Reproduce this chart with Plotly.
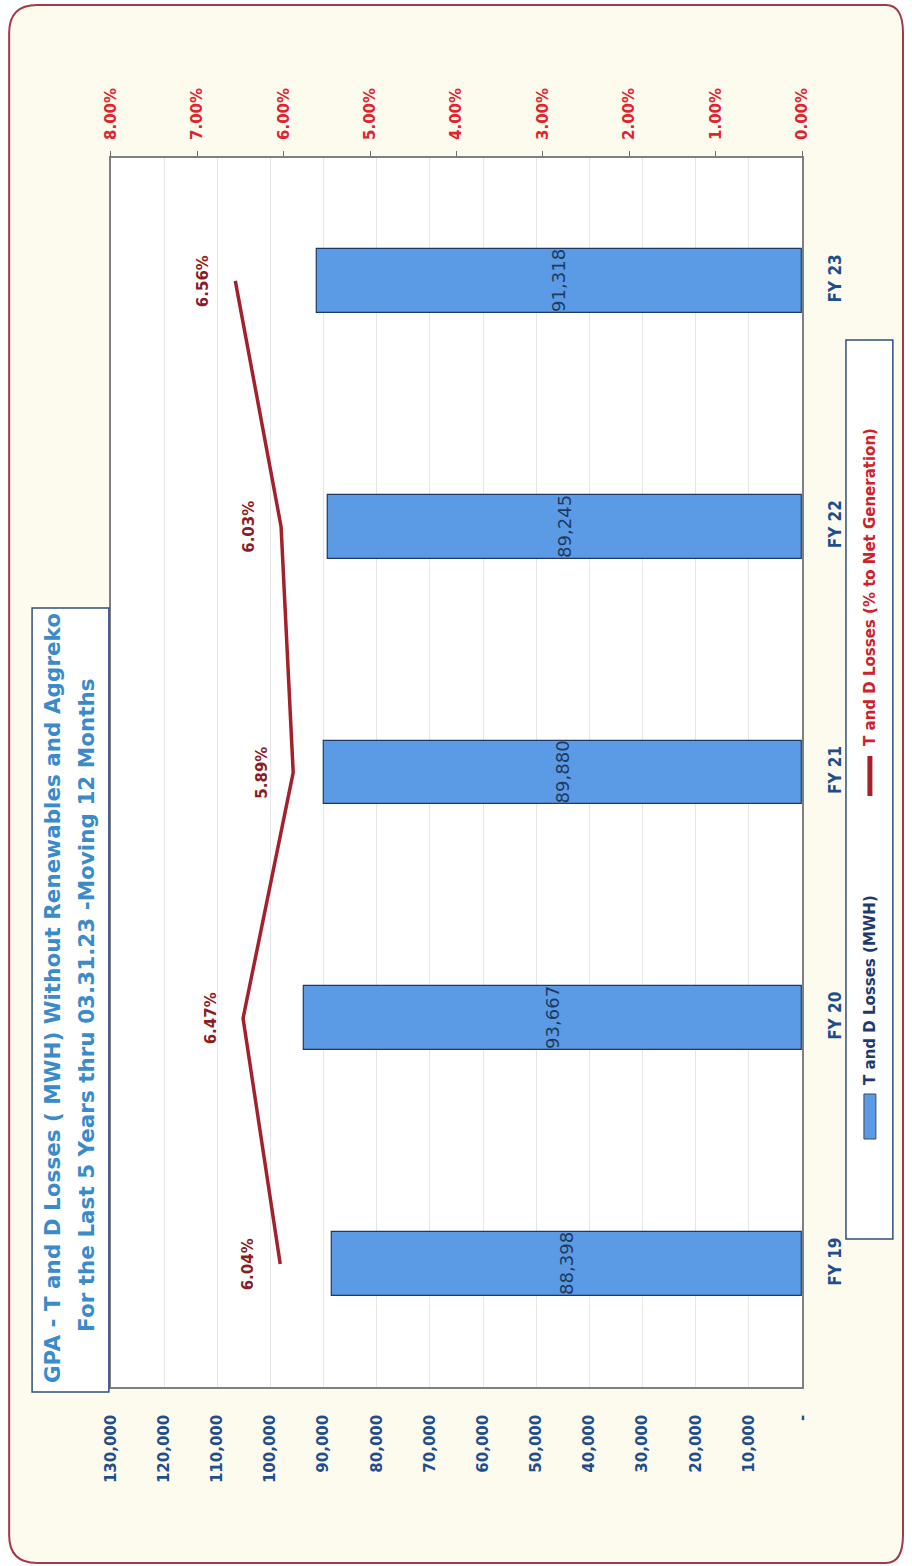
import plotly.graph_objects as go

# ---------------- data ----------------
categories = ["FY 19", "FY 20", "FY 21", "FY 22", "FY 23"]
losses_mwh = [88398, 93667, 89880, 89245, 91318]
losses_pct = [0.0604, 0.0647, 0.0589, 0.0603, 0.0656]

mwh_tickvals = [0, 10000, 20000, 30000, 40000, 50000, 60000, 70000,
                80000, 90000, 100000, 110000, 120000, 130000]
mwh_ticktext = ["-", "10,000", "20,000", "30,000", "40,000", "50,000", "60,000",
                "70,000", "80,000", "90,000", "100,000", "110,000", "120,000", "130,000"]
pct_tickvals = [0.0, 0.01, 0.02, 0.03, 0.04, 0.05, 0.06, 0.07, 0.08]

title_line1 = "GPA - T and D Losses ( MWH) Without Renewables and Aggreko"
title_line2 = "For the Last 5 Years thru 03.31.23 -Moving 12 Months"
legend_bar = "T and D Losses (MWH)"
legend_line = "T and D Losses (% to Net Generation)"

# ---------------- geometry helpers ----------------
W, H = 912, 1566
XS, XOFF = 0.9828, 8.0   # compensation for horizontal squeeze of the photographed page

def px(x):
    v = (x / XS - XOFF) / W
    return min(max(v, 0.0), 1.0)

def py(y):
    return 1 - y / H

PLOT_L, PLOT_R, PLOT_T, PLOT_B = 110, 803, 158, 1387

BAR_BLUE = "#5b9ae4"
BAR_EDGE = "#1f3864"
LINE_RED = "#a3212a"
PCT_RED = "#e0232d"
NAVY = "#1f4e8c"
LBL_RED = "#8c1c24"
FONT = "DejaVu Sans"
FONT_C = "DejaVu Sans Condensed"

fig = go.Figure()

fig.add_trace(go.Bar(
    x=losses_mwh, y=categories, orientation="h",
    marker=dict(color=BAR_BLUE, line=dict(color=BAR_EDGE, width=1.2)),
    width=0.26,
    text=[f"{v:,}" for v in losses_mwh],
    textposition="inside", insidetextanchor="middle", textangle=-90,
    constraintext="none",
    textfont=dict(family=FONT, size=18, color="#1f3a5f"),
    xaxis="x", yaxis="y", showlegend=False, hoverinfo="skip",
))

fig.add_trace(go.Scatter(
    x=losses_pct, y=categories, mode="lines",
    line=dict(color=LINE_RED, width=3.5),
    xaxis="x2", yaxis="y", showlegend=False, hoverinfo="skip",
))

annotations = []
for c, p in zip(categories, losses_pct):
    annotations.append(dict(
        x=p, y=c, xref="x2", yref="y", text=f"{p*100:.2f}%",
        showarrow=False, textangle=-90, xshift=-32,
        font=dict(family=FONT, size=15, color=LBL_RED, weight="bold"),
    ))

# title (two separate lines for control of spacing)
annotations.append(dict(
    x=px(51), y=py(998), xref="paper", yref="paper", text=title_line1,
    showarrow=False, textangle=-90, xanchor="center", yanchor="middle",
    font=dict(family=FONT, size=21.5, color="#3a8bc9", weight="bold"),
))
annotations.append(dict(
    x=px(85), y=py(1005), xref="paper", yref="paper", text=title_line2,
    showarrow=False, textangle=-90, xanchor="center", yanchor="middle",
    font=dict(family=FONT, size=21.5, color="#3a8bc9", weight="bold"),
))

# legend texts
annotations.append(dict(
    x=px(871), y=py(1087), xref="paper", yref="paper", text=legend_bar,
    showarrow=False, textangle=-90, xanchor="center", yanchor="bottom",
    font=dict(family=FONT, size=15, color="#1f3a6e", weight="bold"),
))
annotations.append(dict(
    x=px(871), y=py(748), xref="paper", yref="paper", text=legend_line,
    showarrow=False, textangle=-90, xanchor="center", yanchor="bottom",
    font=dict(family=FONT, size=15, color="#d0202a", weight="bold"),
))

# outer rounded frame path (pixel coords -> paper)
fx0, fy0, fx1, fy1, r = 8, 5, 915, 1563, 28
frame_pts = [
    ("M", [(fx0 + r, fy0)]), ("L", [(fx1 - r, fy0)]), ("Q", [(fx1, fy0), (fx1, fy0 + r)]),
    ("L", [(fx1, fy1 - r)]), ("Q", [(fx1, fy1), (fx1 - r, fy1)]), ("L", [(fx0 + r, fy1)]),
    ("Q", [(fx0, fy1), (fx0, fy1 - r)]), ("L", [(fx0, fy0 + r)]), ("Q", [(fx0, fy0), (fx0 + r, fy0)]),
]
path = " ".join(cmd + " " + " ".join(f"{px(a):.5f},{py(b):.5f}" for a, b in pts)
                for cmd, pts in frame_pts) + " Z"

shapes = [
    dict(type="path", path=path, xref="paper", yref="paper",
         fillcolor="#fdfbee", line=dict(color="#a33a48", width=2), layer="below"),
    dict(type="rect", xref="paper", yref="paper",
         x0=px(PLOT_L), x1=px(PLOT_R), y0=py(PLOT_B), y1=py(PLOT_T),
         fillcolor="white", line=dict(width=0), layer="below"),
    # title box
    dict(type="rect", xref="paper", yref="paper",
         x0=px(31), x1=px(108), y0=py(1392), y1=py(608),
         fillcolor="white", line=dict(color="#2f4f7f", width=1.5), layer="above"),
    # legend box
    dict(type="rect", xref="paper", yref="paper",
         x0=px(847), x1=px(894), y0=py(1239), y1=py(340),
         fillcolor="white", line=dict(color="#2f4f7f", width=1.5), layer="above"),
    # legend swatches
    dict(type="rect", xref="paper", yref="paper",
         x0=px(865), x1=px(877), y0=py(1139), y1=py(1094),
         fillcolor=BAR_BLUE, line=dict(color="#404a5a", width=1), layer="above"),
    dict(type="line", xref="paper", yref="paper",
         x0=px(871), x1=px(871), y0=py(796), y1=py(756),
         line=dict(color=LINE_RED, width=5), layer="above"),
]

fig.update_layout(
    width=W, height=H,
    margin=dict(l=0, r=0, t=0, b=0),
    paper_bgcolor="white",
    plot_bgcolor="rgba(0,0,0,0)",
    showlegend=False,
    bargap=0,
    xaxis=dict(
        domain=[px(PLOT_L), px(PLOT_R)],
        range=[130000, 0], tickmode="array",
        tickvals=mwh_tickvals, ticktext=mwh_ticktext, tickangle=-90,
        side="bottom", ticks="", ticklabelstandoff=20,
        tickfont=dict(family=FONT, size=15, color=NAVY, weight="bold"),
        showgrid=True, gridcolor="#e4e6ea", gridwidth=1,
        showline=True, linecolor="#808080", linewidth=1.5, mirror=True,
        zeroline=False, fixedrange=True,
    ),
    xaxis2=dict(
        overlaying="x", side="top", range=[0.08, 0], tickmode="array",
        tickvals=pct_tickvals, tickformat=".2%", tickangle=-90,
        ticks="outside", ticklen=6, tickcolor="#707070", ticklabelstandoff=8,
        tickfont=dict(family=FONT, size=15, color=PCT_RED, weight="bold"),
        showgrid=False, showline=False, zeroline=False,
    ),
    yaxis=dict(
        domain=[py(PLOT_B), py(PLOT_T)],
        range=[-0.5, 4.5], side="right", tickangle=-90,
        ticks="", ticklabelstandoff=17,
        tickfont=dict(family=FONT_C, size=17, color=NAVY, weight="bold"),
        showgrid=False, showline=True, linecolor="#808080", linewidth=1.5,
        mirror=True, zeroline=False,
    ),
    shapes=shapes,
    annotations=annotations,
)

fig.write_html("out.html")
